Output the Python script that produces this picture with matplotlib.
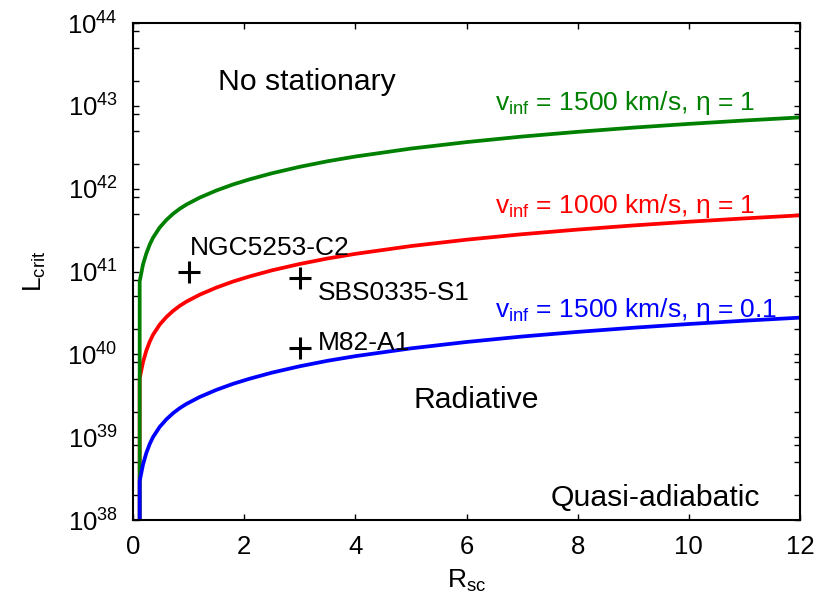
import numpy as np
import matplotlib
matplotlib.use('Agg')
from matplotlib import pyplot as plt
from matplotlib.ticker import LogLocator, NullFormatter, NullLocator

plt.rcParams['font.family'] = ['Liberation Sans', 'DejaVu Sans']
plt.rcParams['mathtext.fontset'] = 'custom'
plt.rcParams['mathtext.rm'] = 'Liberation Sans'
plt.rcParams['mathtext.it'] = 'Liberation Sans:italic'

# curves (x = R_sc, log10 L_crit); first point is the
# vertical drop below the axis
x_curve = [0.12, 0.12, 0.18, 0.24, 0.30, 0.36, 0.48, 0.60, 0.72, 0.84, 0.96, 1.2, 1.5, 1.8, 2.1,
           2.5, 3.0, 3.5, 4.0, 5.0, 6.0, 7.0, 8.0, 9.0, 10.0, 11.0, 12.0]
lg_green = [37.0, 40.88, 41.085, 41.218, 41.324, 41.408, 41.531, 41.622, 41.696, 41.757, 41.808, 41.892,
            41.978, 42.051, 42.113, 42.186, 42.264, 42.331, 42.388, 42.484, 42.562, 42.629, 42.686,
            42.737, 42.782, 42.823, 42.860]
lg_red = [37.0, 39.71, 39.905, 40.045, 40.152, 40.236, 40.359, 40.450, 40.524, 40.585, 40.636, 40.720,
          40.806, 40.879, 40.941, 41.014, 41.091, 41.157, 41.213, 41.307, 41.384, 41.450, 41.506,
          41.556, 41.601, 41.641, 41.678]
lg_blue = [37.0, 38.47, 38.670, 38.810, 38.917, 39.001, 39.124, 39.215, 39.289, 39.350, 39.401, 39.485,
           39.571, 39.644, 39.706, 39.779, 39.856, 39.922, 39.978, 40.072, 40.149, 40.215, 40.271,
           40.321, 40.366, 40.406, 40.443]

# observed clusters
obj_names = ['NGC5253-C2', 'SBS0335-S1', 'M82-A1']
obj_x = [1.0, 3.0, 3.0]
obj_L = [1.0e41, 8.3e40, 1.2e40]
lab_x = [1.03, 3.33, 3.33]
lab_lg = [41.20, 40.66, 40.05]

curve_labels = [r'$\mathregular{v_{inf}}$ = 1500 km/s, η = 1',
                r'$\mathregular{v_{inf}}$ = 1000 km/s, η = 1',
                r'$\mathregular{v_{inf}}$ = 1500 km/s, η = 0.1']
curve_lab_lg = [42.95, 41.71, 40.45]

green = '#008000'
red = '#ff0000'
blue = '#0000ff'

fig = plt.figure(figsize=(8.38, 6.04), dpi=100)
ax = fig.add_axes([133/838, 1-520/604, (800-133)/838, (520-23)/604])

lw = 2.7
ax.plot(x_curve, 10**np.array(lg_red), color=red, lw=lw, solid_joinstyle='round')
ax.plot(x_curve, 10**np.array(lg_green), color=green, lw=lw, solid_joinstyle='round')
ax.plot(x_curve, 10**np.array(lg_blue), color=blue, lw=lw, solid_joinstyle='round')

ax.plot(obj_x, obj_L, '+', color='black', ms=16, mew=2.2, ls='none')
for name, xx, lg in zip(obj_names, lab_x, lab_lg):
    ax.text(xx, 10**lg, name, fontsize=19, va='baseline', ha='left')

for lab, lg, c in zip(curve_labels, curve_lab_lg, [green, red, blue]):
    ax.text(6.51, 10**lg, lab, fontsize=19, color=c, va='baseline', ha='left')

ax.text(1.53, 10**43.29, 'No stationary', fontsize=21.7, va='center', ha='left')
ax.text(5.04, 10**39.35, 'Radiative', fontsize=21.7, va='baseline', ha='left')
ax.text(7.52, 10**38.17, 'Quasi-adiabatic', fontsize=21.7, va='baseline', ha='left')

ax.set_yscale('log')
ax.set_xlim(0, 12)
ax.set_ylim(1e38, 1e44)
ax.set_xticks([0, 2, 4, 6, 8, 10, 12])
ax.xaxis.set_minor_locator(NullLocator())
ax.yaxis.set_major_locator(LogLocator(base=10, numticks=10))
ax.yaxis.set_minor_locator(LogLocator(base=10, subs=[2, 5, 8], numticks=10))
ax.yaxis.set_minor_formatter(NullFormatter())

ax.tick_params(which='both', direction='in', top=True, right=True, width=1.0, color='black')
ax.tick_params(which='major', length=4.5, labelsize=18.5, pad=11)
ax.tick_params(which='minor', length=4.5)
for s in ax.spines.values():
    s.set_linewidth(1.5)

ax.set_xlabel(r'$\mathregular{R_{sc}}$', fontsize=19, labelpad=6)
ax.set_ylabel(r'$\mathregular{L_{crit}}$', fontsize=19, labelpad=14)

fig.savefig('out.png', dpi=100)
